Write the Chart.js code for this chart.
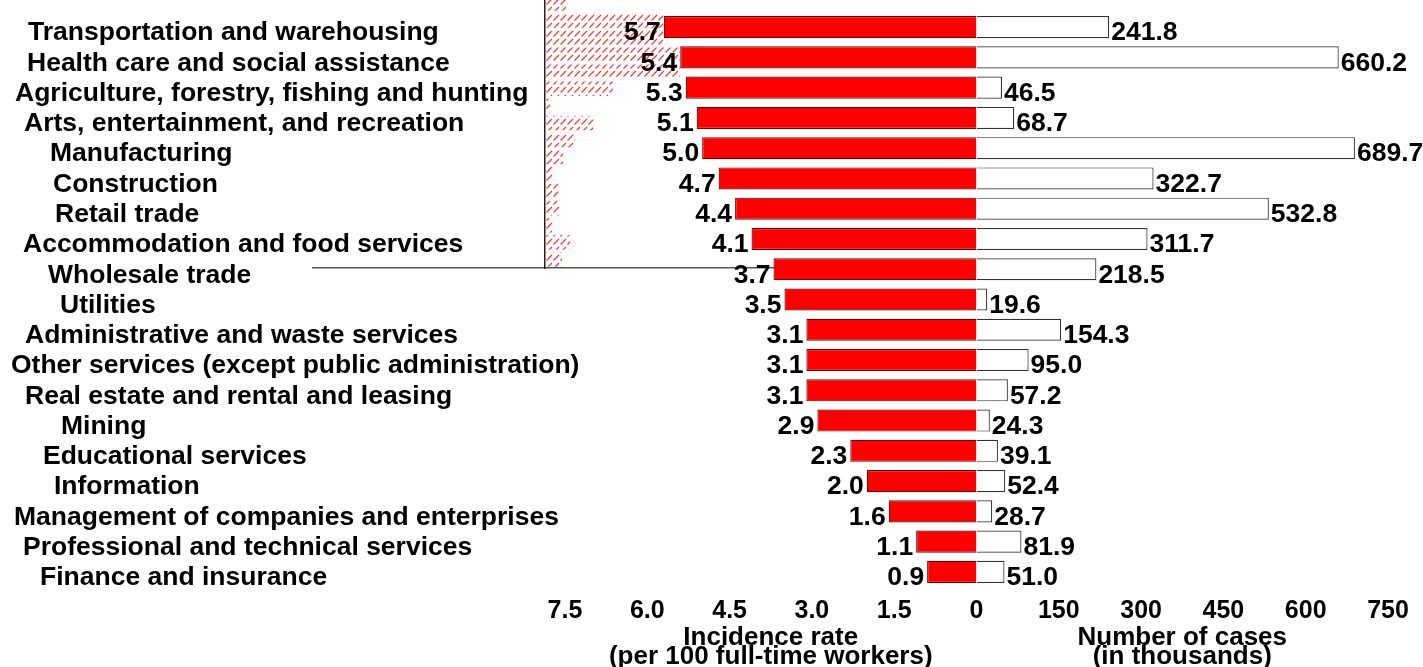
<!DOCTYPE html>
<html>
<head>
<meta charset="utf-8">
<script src="https://cdn.jsdelivr.net/npm/chart.js@4.4.1/dist/chart.umd.min.js"></script>
<style>
  html, body { margin: 0; padding: 0; background: #fff; }
  #cadre { position: relative; width: 1423px; height: 667px; overflow: hidden; }
  #cadre canvas { position: absolute; left: 0; }
</style>
</head>
<body>
<div id="cadre">
  <canvas id="fantome" width="1423" height="677" style="top:-10px"></canvas>
  <canvas id="graphique" width="1423" height="667" style="top:0"></canvas>
</div>
<script>
// Secteurs, du taux le plus élevé au plus faible
const industries = [
    'Transportation and warehousing',
    'Health care and social assistance',
    'Agriculture, forestry, fishing and hunting',
    'Arts, entertainment, and recreation',
    'Manufacturing',
    'Construction',
    'Retail trade',
    'Accommodation and food services',
    'Wholesale trade',
    'Utilities',
    'Administrative and waste services',
    'Other services (except public administration)',
    'Real estate and rental and leasing',
    'Mining',
    'Educational services',
    'Information',
    'Management of companies and enterprises',
    'Professional and technical services',
    'Finance and insurance'
];
const incidenceRate = [5.7, 5.4, 5.3, 5.1, 5.0, 4.7, 4.4, 4.1, 3.7, 3.5, 3.1, 3.1, 3.1, 2.9, 2.3, 2.0, 1.6, 1.1, 0.9];
const casesThousands = [241.8, 660.2, 46.5, 68.7, 689.7, 322.7, 532.8, 311.7, 218.5, 19.6, 154.3, 95.0, 57.2, 24.3, 39.1, 52.4, 28.7, 81.9, 51.0];
const rateTicks = [0, 1.5, 3.0, 4.5, 6.0, 7.5];
const caseTicks = [0, 150, 300, 450, 600, 750];

// Barres hachurées parasites en haut à gauche (reste d'un autre graphique)
const ghostValues = [0.4, 2.16, 2.16, 2.47, 2.47, 1.24, 0.09, 0.88, 0.55, 0.33, 0.15, 0.24, 0.27, 0.15, 0.46, 0.31];

// retrait à gauche de chaque libellé (px)
const labelLeft = [28, 27, 15, 24, 50, 53, 55, 23, 48, 60, 25, 11, 25, 61, 43, 54, 14, 23, 40];

const police = '"Liberation Sans", Arial, sans-serif';

const etiquettes = {
    id: 'etiquettes',
    afterDatasetsDraw(chart) {
        const ctx = chart.ctx;
        const y = chart.scales.y;
        ctx.save();
        ctx.font = 'bold 26.5px ' + police;
        ctx.fillStyle = '#000';
        ctx.textBaseline = 'middle';
        ctx.textAlign = 'left';
        industries.forEach((nom, i) => {
            ctx.fillText(nom, labelLeft[i], y.getPixelForValue(i) + 6);
        });
        ctx.textAlign = 'right';
        chart.getDatasetMeta(0).data.forEach((bar, i) => {
            ctx.fillText(incidenceRate[i].toFixed(1), bar.x - 3, bar.y + 6);
        });
        ctx.textAlign = 'left';
        chart.getDatasetMeta(1).data.forEach((bar, i) => {
            ctx.fillText(casesThousands[i].toFixed(1), bar.x + 2, bar.y + 6);
        });
        ctx.restore();
    }
};

const hachures = () => {
    const c = document.createElement('canvas');
    c.width = 7; c.height = 8;
    const g = c.getContext('2d');
    g.strokeStyle = '#ff2a2a';
    g.lineWidth = 1.1;
    g.beginPath();
    g.moveTo(0.5, 6.5);
    g.lineTo(6, 1);
    g.stroke();
    return g.createPattern(c, 'repeat');
};

new Chart(document.getElementById('fantome').getContext('2d'), {
    type: 'bar',
    data: {
        labels: ghostValues.map((v, i) => i + 1),
        datasets: [{
            data: ghostValues,
            backgroundColor: hachures(),
            borderWidth: 0,
            barPercentage: 0.85,
            categoryPercentage: 1
        }]
    },
    options: {
        indexAxis: 'y',
        responsive: false,
        animation: false,
        layout: { padding: { left: 313, right: 643, top: 5, bottom: 391 } },
        plugins: { legend: { display: false }, tooltip: { enabled: false } },
        scales: {
            x: {
                min: -4.25, max: 4.3,
                grid: { display: false },
                ticks: { display: false },
                border: { display: true, color: '#555', width: 1.5 }
            },
            y: {
                position: { x: 0 },
                grid: { display: false },
                ticks: { display: false },
                border: { display: true, color: '#222', width: 1.5 }
            }
        }
    }
});

const tickFont = { family: police, size: 25, weight: 'bold', lineHeight: 1.0 };
const titleFont = { family: police, size: 26, weight: 'bold', lineHeight: 0.75 };

new Chart(document.getElementById('graphique').getContext('2d'), {
    type: 'bar',
    data: {
        labels: industries,
        datasets: [{
            label: 'Incidence rate',
            data: incidenceRate,
            xAxisID: 'xRate',
            backgroundColor: '#ff0000',
            borderColor: '#6e0000',
            borderWidth: 1.2,
            grouped: false
        }, {
            label: 'Number of cases',
            data: casesThousands,
            xAxisID: 'xCases',
            backgroundColor: '#ffffff',
            borderColor: '#333333',
            borderWidth: 1.2,
            grouped: false
        }]
    },
    options: {
        indexAxis: 'y',
        responsive: false,
        animation: false,
        barPercentage: 0.73,
        categoryPercentage: 1,
        layout: { padding: { left: 565, right: 35, top: 12, bottom: 0 } },
        plugins: { legend: { display: false }, tooltip: { enabled: false } },
        scales: {
            y: { display: false },
            xRate: {
                type: 'linear',
                position: 'bottom',
                stack: 'bas',
                reverse: true,
                min: 0, max: 7.5,
                afterBuildTicks: scale => { scale.ticks = rateTicks.map(v => ({ value: v })); },
                grid: { display: false },
                border: { display: false },
                ticks: {
                    color: '#000', font: tickFont, padding: 4, maxRotation: 0, autoSkip: false,
                    callback: v => v === 0 ? '0' : v.toFixed(1)
                },
                title: {
                    display: true, color: '#000', font: titleFont,
                    padding: { top: 0, bottom: 0 },
                    text: ['Incidence rate', '(per 100 full-time workers)']
                }
            },
            xCases: {
                type: 'linear',
                position: 'bottom',
                stack: 'bas',
                min: 0, max: 750,
                afterBuildTicks: scale => { scale.ticks = caseTicks.map(v => ({ value: v })); },
                grid: { display: false },
                border: { display: false },
                ticks: {
                    color: '#000', font: tickFont, padding: 4, maxRotation: 0, autoSkip: false,
                    callback: v => v === 0 ? '' : String(v)
                },
                title: {
                    display: true, color: '#000', font: titleFont,
                    padding: { top: 0, bottom: 0 },
                    text: ['Number of cases', '(in thousands)']
                }
            }
        }
    },
    plugins: [etiquettes]
});
</script>
</body>
</html>
